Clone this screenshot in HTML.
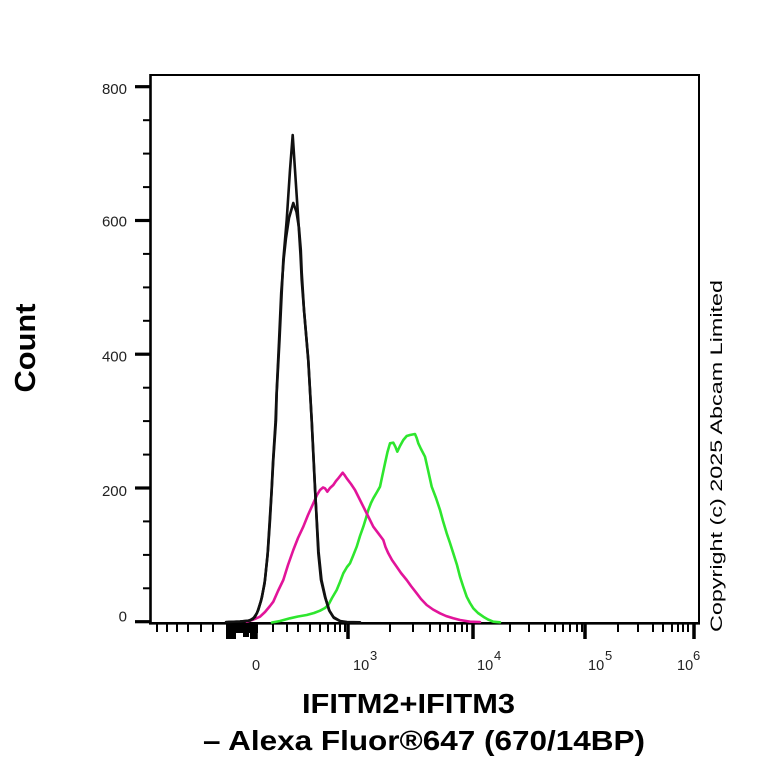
<!DOCTYPE html>
<html>
<head>
<meta charset="utf-8">
<style>
html,body{margin:0;padding:0;background:#fff;}
svg{display:block;}
text{font-family:"Liberation Sans",Arial,sans-serif;}
</style>
</head>
<body>
<svg width="768" height="768" viewBox="0 0 768 768" xmlns="http://www.w3.org/2000/svg">
<rect width="768" height="768" fill="#fff"/>

<!-- frame -->
<line x1="150" y1="75" x2="699.5" y2="75" stroke="#000" stroke-width="2"/>
<line x1="699" y1="74" x2="699" y2="624" stroke="#000" stroke-width="2"/>
<line x1="150.5" y1="74" x2="150.5" y2="624.5" stroke="#000" stroke-width="2.6"/>
<line x1="149" y1="623.3" x2="700" y2="623.3" stroke="#000" stroke-width="2.6"/>

<!-- y ticks -->
<g stroke="#000">
  <g stroke-width="3.2">
    <line x1="135" y1="621.7" x2="150" y2="621.7"/>
    <line x1="135" y1="488" x2="150" y2="488"/>
    <line x1="135" y1="354.2" x2="150" y2="354.2"/>
    <line x1="135" y1="220.5" x2="150" y2="220.5"/>
    <line x1="135" y1="86.7" x2="150" y2="86.7"/>
  </g>
  <g stroke-width="2">
    <line x1="143" y1="588.3" x2="150" y2="588.3"/>
    <line x1="143" y1="554.9" x2="150" y2="554.9"/>
    <line x1="143" y1="521.4" x2="150" y2="521.4"/>
    <line x1="143" y1="454.6" x2="150" y2="454.6"/>
    <line x1="143" y1="421.1" x2="150" y2="421.1"/>
    <line x1="143" y1="387.7" x2="150" y2="387.7"/>
    <line x1="143" y1="320.8" x2="150" y2="320.8"/>
    <line x1="143" y1="287.4" x2="150" y2="287.4"/>
    <line x1="143" y1="253.9" x2="150" y2="253.9"/>
    <line x1="143" y1="187.1" x2="150" y2="187.1"/>
    <line x1="143" y1="153.6" x2="150" y2="153.6"/>
    <line x1="143" y1="120.2" x2="150" y2="120.2"/>
  </g>
</g>

<!-- y labels -->
<g font-size="15" fill="#222" text-anchor="end">
  <text x="127" y="94">800</text>
  <text x="127" y="226.7">600</text>
  <text x="127" y="361.7">400</text>
  <text x="127" y="496">200</text>
  <text x="127" y="621.5">0</text>
</g>

<!-- x ticks -->
<g stroke="#000">
  <g stroke-width="2">
    <line x1="157" y1="623" x2="157" y2="632"/>
    <line x1="167" y1="623" x2="167" y2="632"/>
    <line x1="177" y1="623" x2="177" y2="632"/>
    <line x1="188" y1="623" x2="188" y2="632"/>
    <line x1="201" y1="623" x2="201" y2="632"/>
    <line x1="213" y1="623" x2="213" y2="632"/>

    <line x1="273" y1="623" x2="273" y2="632"/>
    <line x1="287" y1="623" x2="287" y2="632"/>
    <line x1="298" y1="623" x2="298" y2="632"/>
    <line x1="310" y1="623" x2="310" y2="632"/>
    <line x1="320" y1="623" x2="320" y2="632"/>
    <line x1="328" y1="623" x2="328" y2="632"/>
    <line x1="335" y1="623" x2="335" y2="632"/>
    <line x1="340" y1="623" x2="340" y2="632"/>
    <line x1="345" y1="623" x2="345" y2="632"/>

    <line x1="390" y1="623" x2="390" y2="632"/>
    <line x1="413" y1="623" x2="413" y2="632"/>
    <line x1="430" y1="623" x2="430" y2="632"/>
    <line x1="440" y1="623" x2="440" y2="632"/>
    <line x1="448" y1="623" x2="448" y2="632"/>
    <line x1="455" y1="623" x2="455" y2="632"/>
    <line x1="462" y1="623" x2="462" y2="632"/>
    <line x1="467" y1="623" x2="467" y2="632"/>

    <line x1="510" y1="623" x2="510" y2="632"/>
    <line x1="529" y1="623" x2="529" y2="632"/>
    <line x1="545" y1="623" x2="545" y2="632"/>
    <line x1="555" y1="623" x2="555" y2="632"/>
    <line x1="563" y1="623" x2="563" y2="632"/>
    <line x1="570" y1="623" x2="570" y2="632"/>
    <line x1="577" y1="623" x2="577" y2="632"/>
    <line x1="582" y1="623" x2="582" y2="632"/>

    <line x1="618" y1="623" x2="618" y2="632"/>
    <line x1="638" y1="623" x2="638" y2="632"/>
    <line x1="653" y1="623" x2="653" y2="632"/>
    <line x1="663" y1="623" x2="663" y2="632"/>
    <line x1="672" y1="623" x2="672" y2="632"/>
    <line x1="678" y1="623" x2="678" y2="632"/>
    <line x1="683" y1="623" x2="683" y2="632"/>
    <line x1="688" y1="623" x2="688" y2="632"/>
  </g>
  <g stroke-width="3.5">
    <line x1="256" y1="623" x2="256" y2="639"/>
    <line x1="348" y1="623" x2="348" y2="639"/>
    <line x1="473" y1="623" x2="473" y2="639"/>
    <line x1="585" y1="623" x2="585" y2="639"/>
    <line x1="694" y1="623" x2="694" y2="639"/>
  </g>
</g>
<!-- dense tick blob near zero -->
<g fill="#000">
  <rect x="226" y="623" width="32" height="10"/>
  <rect x="226" y="623" width="10" height="16"/>
  <rect x="243" y="623" width="6" height="14"/>
  <rect x="250" y="623" width="6" height="16"/>
</g>

<!-- x labels -->
<g font-size="14.5" fill="#222">
  <text x="256" y="670" text-anchor="middle">0</text>
  <text x="353" y="670">10</text><text x="370" y="660" font-size="13">3</text>
  <text x="477" y="670">10</text><text x="494" y="660" font-size="13">4</text>
  <text x="588" y="670">10</text><text x="605" y="660" font-size="13">5</text>
  <text x="677" y="670">10</text><text x="693" y="660" font-size="13">6</text>
</g>

<!-- curves -->
<g fill="none" stroke-linejoin="round" stroke-linecap="round">
  <!-- green -->
  <polyline stroke="#2ee62e" stroke-width="2.6" points="
    272,622.5 280,621 290,618.3 298,616.5 306.7,615 314,613 320,610.7 325,608 328.3,605 332,598 336.7,590 340,582 343.3,573.3 347,567 350,563.3 353,556 356.7,546.7 360,536 363.3,526.7 366,518 368.3,510 371,503 373.3,498.3 377,492 380,486.7 382.5,475 385,463.3 387.5,452 390,443.3 393.3,442.7 395.5,447 397.3,451.7 400,446 403.3,440 406.7,436 410,435 415,434 416.7,438 418.3,443.3 421,449 425,456.7 428,470 431.7,486.7 436,498 440,510 443,521 446.7,533.3 450,543 453.3,553.3 457,565 460,576.7 463,586 466.7,596.7 470,603 473.3,608.3 478,613 483.3,616.7 488,619.5 493.3,621.7 500,622.3"/>
  <!-- magenta -->
  <polyline stroke="#e2149a" stroke-width="2.6" points="
    246.7,621.7 252,620 256,618.5 260,616.7 265,612 270,606 273.3,601.7 278,591 283.3,580 288,565 293.3,550 298,538 303.3,526.7 308,515 313.3,503.3 317,495 320,490 323,487.5 325,488.3 327.3,491.7 330,488 333.3,485 336,481 338.3,478.3 342.7,472.7 344.5,475 346.7,478.3 351,484 355,490 360,500 365,510 369,518 373.3,526.7 378.3,533.3 383.3,540 385.5,547 388.3,553.3 392,560 396.7,566.7 401,573 406.7,580 411,586 416.7,593.3 421,599 426.7,605 433,609.5 440,613.3 446,616 453.3,618.3 460,620 470,621.7 480,622"/>
  <!-- black inner -->
  <polyline stroke="#111" stroke-width="2.6" points="
    228,622 240,621.5 248,620.8 253,619 257,613 261,601 264.5,584 267.5,556 269.5,524 271.5,492 273,462 275.5,422 276.5,395 279,342 281.2,293 283.8,258 286,238 289,218 293.3,203 296.5,212 299,228 300.8,250 301.7,272 304,310 308.3,361 311.7,421 315,489 318.6,552 321.5,580 325.5,598 329.5,611 334,618 341,621.5 348,622.5"/>
  <!-- black outer -->
  <polyline stroke="#111" stroke-width="2.6" points="
    226,622 240,621.5 250,620.5 255,617 258.3,610 262,597 265,580 268,550 270,520 271.7,490 273.3,460 276,420 276.7,393 279.5,340 281.7,293 283.3,260 286.7,220 290,170 292.7,135 295,170 298.3,220 300.5,255 301.7,280 304,310 308.3,360 311.7,420 315,487 318.3,553 321,580 325,597 329,610 333.3,617 340,621 347,622 360,622.3"/>
</g>

<!-- axis titles -->
<text x="0" y="0" transform="translate(35,348) rotate(-90)" font-size="29" font-weight="bold" fill="#000" text-anchor="middle" textLength="89" lengthAdjust="spacingAndGlyphs">Count</text>
<text x="408.5" y="713" font-size="28" font-weight="bold" fill="#000" text-anchor="middle" textLength="213" lengthAdjust="spacingAndGlyphs">IFITM2+IFITM3</text>
<text x="424" y="750" font-size="28" font-weight="bold" fill="#000" text-anchor="middle" textLength="442" lengthAdjust="spacingAndGlyphs">– Alexa Fluor®647 (670/14BP)</text>

<!-- copyright -->
<text x="0" y="0" transform="translate(722,456) rotate(-90)" font-size="17" fill="#000" text-anchor="middle" textLength="352" lengthAdjust="spacingAndGlyphs">Copyright (c) 2025 Abcam Limited</text>
</svg>
</body>
</html>
